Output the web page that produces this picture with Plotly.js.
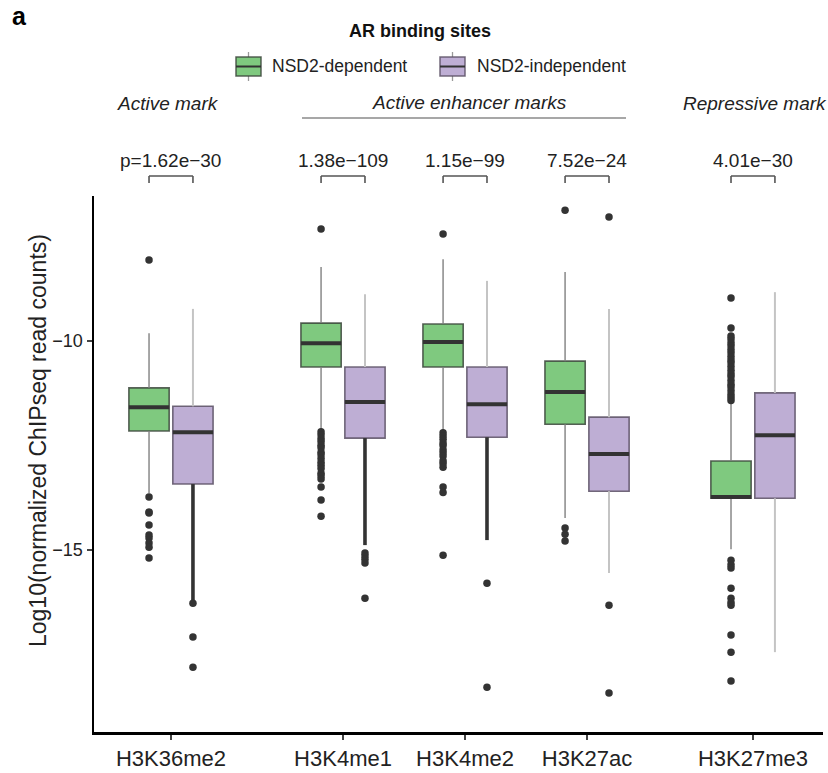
<!DOCTYPE html>
<html>
<head>
<meta charset="utf-8">
<script src="https://cdn.plot.ly/plotly-3.0.1.min.js"></script>
<style>html,body{margin:0;padding:0;background:#fff;}#chart{width:828px;height:773px;}</style>
</head>
<body>
<div id="chart"></div>
<script>
// ---------------- DATA ----------------
const categories = ['H3K36me2', 'H3K4me1', 'H3K4me2', 'H3K27ac', 'H3K27me3'];
const pLabels = ['p=1.62e\u221230', '1.38e\u2212109', '1.15e\u221299', '7.52e\u221224', '4.01e\u221230'];
const seriesNames = ['NSD2-dependent', 'NSD2-independent'];

// NSD2-dependent (green)
const depQ1     = [-12.15, -10.62, -10.62, -11.99, -13.76];
const depMedian = [-11.58, -10.05, -10.02, -11.22, -13.73];
const depQ3     = [-11.12,  -9.57,  -9.59, -10.48, -12.87];
const depLower  = [-13.64, -12.13, -12.15, -14.23, -14.98];
const depUpper  = [ -9.81,  -8.23,  -8.04,  -8.35, -11.48];
const depOutliers = [
  [-8.06, -13.73, -14.09, -14.11, -14.40, -14.64, -14.71, -14.83, -14.93, -15.19],
  [-7.32, -12.17, -12.24, -12.33, -12.40, -12.49, -12.55, -12.66, -12.72, -12.81, -12.90, -12.97, -13.05, -13.16, -13.22, -13.30, -13.49, -13.80, -14.19],
  [-7.44, -12.19, -12.27, -12.35, -12.44, -12.50, -12.60, -12.67, -12.75, -12.86, -12.93, -13.02, -13.49, -13.62, -15.12],
  [-6.87, -14.47, -14.62, -14.78],
  [-11.42, -11.35, -11.28, -11.19, -11.10, -11.03, -10.94, -10.85, -10.78, -10.70, -10.61, -10.52, -10.45, -10.37, -10.28, -10.20, -10.11, -10.04, -9.95, -9.88, -9.69, -8.97,
   -15.24, -15.35, -15.43, -15.91, -16.15, -16.25, -16.32, -17.03, -17.44, -18.13]
];

// NSD2-independent (purple)
const indQ1     = [-13.42, -12.32, -12.30, -13.59, -13.76];
const indMedian = [-12.18, -11.46, -11.51, -12.70, -12.25];
const indQ3     = [-11.56, -10.62, -10.62, -11.82, -11.24];
const indLower  = [-16.27, -14.88, -14.76, -15.55, -17.44];
const indUpper  = [ -9.23,  -8.88,  -8.56,  -9.23,  -8.83];
const indDenseLowerTail = ['H3K36me2', 'H3K4me1', 'H3K4me2']; // lower whisker overplotted by dense points
const indOutliers = [
  [-16.27, -17.08, -17.80],
  [-15.07, -15.14, -15.22, -15.31, -16.15],
  [-15.79, -18.28],
  [-7.03, -16.32, -18.42],
  []
];

// ---------------- LAYOUT HELPERS ----------------
const catPos = [1, 2.41, 3.41, 4.41, 5.77];   // category centres on the x axis
const dodge = 0.18, boxW = 0.33;
const M = {l: 94, r: 5, t: 196, b: 41};
const W = 828, H = 773;
const PW = W - M.l - M.r, PH = H - M.t - M.b;
const px = v => (v - M.l) / PW;          // pixel -> paper x
const py = v => (H - M.b - v) / PH;      // pixel -> paper y

const GREEN = '#7fc97f', PURPLE = '#beaed4', DARK = '#333333';
const GREEN_LINE = 'rgba(60,70,60,0.85)', PURPLE_LINE = 'rgba(90,80,100,0.85)';
const FONT = 'Liberation Sans, Arial, Helvetica, sans-serif';

const depX = catPos.map(p => p - dodge);
const indX = catPos.map(p => p + dodge);

function boxTrace(name, xs, q1, med, q3, fill, line) {
  return {
    type: 'box', name: name, x: xs,
    q1: q1, median: med, q3: q3,
    lowerfence: q1, upperfence: q3,          // whiskers drawn separately
    width: boxW, whiskerwidth: 0, boxpoints: false,
    fillcolor: fill, line: {color: line, width: 1.6},
    hoverinfo: 'skip', showlegend: false
  };
}
function segTrace(xs, y0s, y1s, color, width, filter) {
  const x = [], y = [];
  xs.forEach((xv, i) => {
    if (filter && !filter(i)) return;
    x.push(xv, xv, null); y.push(y0s[i], y1s[i], null);
  });
  return {type: 'scatter', mode: 'lines', x: x, y: y, line: {color: color, width: width},
          showlegend: false, hoverinfo: 'skip', cliponaxis: false};
}
function medianTrace(xs, med) {
  const x = [], y = [];
  xs.forEach((xv, i) => { x.push(xv - boxW / 2, xv + boxW / 2, null); y.push(med[i], med[i], null); });
  return {type: 'scatter', mode: 'lines', x: x, y: y, line: {color: DARK, width: 4},
          showlegend: false, hoverinfo: 'skip'};
}
function outlierTrace(xs, outs) {
  const x = [], y = [];
  outs.forEach((arr, i) => arr.forEach(v => { x.push(xs[i]); y.push(v); }));
  return {type: 'scatter', mode: 'markers', x: x, y: y,
          marker: {color: DARK, size: 7.5, line: {width: 0}},
          showlegend: false, hoverinfo: 'skip'};
}

const isDense = i => indDenseLowerTail.includes(categories[i]);

const traces = [
  boxTrace(seriesNames[0], depX, depQ1, depMedian, depQ3, GREEN, GREEN_LINE),
  boxTrace(seriesNames[1], indX, indQ1, indMedian, indQ3, PURPLE, PURPLE_LINE),
  segTrace(depX, depQ3, depUpper, '#808080', 1.4),
  segTrace(depX, depQ1, depLower, '#808080', 1.4),
  segTrace(indX, indQ3, indUpper, '#c4c4c4', 2),
  segTrace(indX, indQ1, indLower, '#c4c4c4', 2, i => !isDense(i)),
  segTrace(indX, indQ1, indLower, DARK, 3.6, i => isDense(i)),
  medianTrace(depX, depMedian),
  medianTrace(indX, indMedian),
  outlierTrace(depX, depOutliers),
  outlierTrace(indX, indOutliers)
];

// p-value brackets and labels
const shapes = [];
const annotations = [];
catPos.forEach((p, i) => {
  const a = depX[i], b = indX[i];
  const yTop = py(176), yBot = py(183);
  const ln = {color: '#555', width: 1.6};
  shapes.push({type: 'line', xref: 'x', yref: 'paper', x0: a, x1: b, y0: yTop, y1: yTop, line: ln});
  shapes.push({type: 'line', xref: 'x', yref: 'paper', x0: a, x1: a, y0: yTop, y1: yBot, line: ln});
  shapes.push({type: 'line', xref: 'x', yref: 'paper', x0: b, x1: b, y0: yTop, y1: yBot, line: ln});
  annotations.push({xref: 'x', yref: 'paper', x: p, y: py(161), text: pLabels[i], showarrow: false,
                    xanchor: 'center', yanchor: 'middle', font: {family: FONT, size: 19, color: '#222'}});
});
// group headings
const groupFont = {family: FONT, size: 19, color: '#222', style: 'italic'};
annotations.push({xref: 'paper', yref: 'paper', x: px(168), y: py(103), text: 'Active mark', showarrow: false, font: groupFont, xanchor: 'center', yanchor: 'middle'});
annotations.push({xref: 'paper', yref: 'paper', x: px(470), y: py(102), text: 'Active enhancer marks', showarrow: false, font: groupFont, xanchor: 'center', yanchor: 'middle'});
annotations.push({xref: 'paper', yref: 'paper', x: px(755), y: py(103), text: 'Repressive mark', showarrow: false, font: groupFont, xanchor: 'center', yanchor: 'middle'});
shapes.push({type: 'line', xref: 'paper', yref: 'paper', x0: px(302), x1: px(626), y0: py(118), y1: py(118), line: {color: '#8a8a8a', width: 1.6}});
// panel letter and legend title
annotations.push({xref: 'paper', yref: 'paper', x: px(10), y: py(16), text: '<b>a</b>', showarrow: false, xanchor: 'left', yanchor: 'middle', font: {family: FONT, size: 25, color: '#000'}});
annotations.push({xref: 'paper', yref: 'paper', x: px(420), y: py(31), text: '<b>AR binding sites</b>', showarrow: false, xanchor: 'center', yanchor: 'middle', font: {family: FONT, size: 18, color: '#111'}});
// y-axis title
annotations.push({xref: 'paper', yref: 'paper', x: px(38), y: py(441), text: 'Log10(normalized ChIPseq read counts)', textangle: -90, showarrow: false, xanchor: 'center', yanchor: 'middle', font: {family: FONT, size: 23, color: '#222'}});

// custom legend (ggplot-style box keys)
const legendItems = [
  {name: seriesNames[0], fill: GREEN, line: GREEN_LINE, x0: 236, x1: 261, tx: 270},
  {name: seriesNames[1], fill: PURPLE, line: PURPLE_LINE, x0: 440, x1: 465, tx: 475}
];
legendItems.forEach(it => {
  const cx = (it.x0 + it.x1) / 2;
  shapes.push({type: 'line', xref: 'paper', yref: 'paper', x0: px(cx), x1: px(cx), y0: py(52), y1: py(81), line: {color: '#999', width: 1.3}});
  shapes.push({type: 'rect', xref: 'paper', yref: 'paper', x0: px(it.x0), x1: px(it.x1), y0: py(57), y1: py(76), fillcolor: it.fill, line: {color: it.line, width: 1.5}});
  shapes.push({type: 'line', xref: 'paper', yref: 'paper', x0: px(it.x0), x1: px(it.x1), y0: py(66.5), y1: py(66.5), line: {color: DARK, width: 2}});
  annotations.push({xref: 'paper', yref: 'paper', x: px(it.tx), y: py(66.5), text: it.name, showarrow: false, xanchor: 'left', yanchor: 'middle', font: {family: FONT, size: 17.5, color: '#222'}});
});

const layout = {
  width: W, height: H,
  margin: M,
  paper_bgcolor: '#fff', plot_bgcolor: '#fff',
  boxmode: 'overlay',
  font: {family: FONT, color: '#222'},
  showlegend: false,
  xaxis: {
    range: [0.369, 6.344], tickvals: catPos, ticktext: categories,
    showline: true, linecolor: '#000', linewidth: 2.5, mirror: false,
    ticks: 'outside', ticklen: 5, tickwidth: 1.5, tickcolor: '#444',
    showgrid: false, zeroline: false, fixedrange: true,
    tickfont: {family: FONT, size: 22, color: '#222'}
  },
  yaxis: {
    range: [-19.35, -6.53], tickvals: [-15, -10],
    showline: true, linecolor: '#000', linewidth: 2.5,
    ticks: 'outside', ticklen: 5, tickwidth: 1.5, tickcolor: '#444',
    showgrid: false, zeroline: false, fixedrange: true,
    tickfont: {family: FONT, size: 18, color: '#222'}
  },
  shapes: shapes,
  annotations: annotations
};

Plotly.newPlot('chart', traces, layout, {displayModeBar: false, staticPlot: true});
</script>
</body>
</html>
